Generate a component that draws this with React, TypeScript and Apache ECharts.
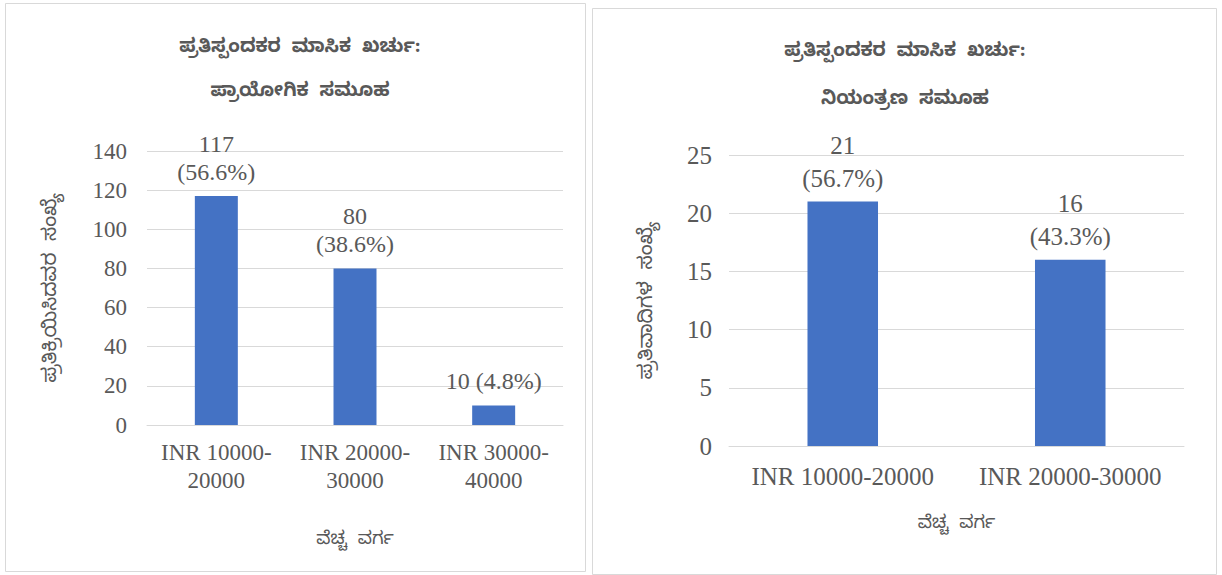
import React, { useEffect, useRef } from "react";
import * as echarts from "echarts";

const leftCategories = ["INR 10000-\n20000", "INR 20000-\n30000", "INR 30000-\n40000"];
const leftValues = [117, 80, 10];
const leftPercents = ["56.6", "38.6", "4.8"];
const leftLabelSep = ["\n", "\n", " "];
const leftTicks = { min: 0, max: 140, interval: 20 };

const rightCategories = ["INR 10000-20000", "INR 20000-30000"];
const rightValues = [21, 16];
const rightPercents = ["56.7", "43.3"];
const rightLabelSep = ["\n", "\n"];
const rightTicks = { min: 0, max: 25, interval: 5 };

const leftTitle = "ಪ್ರತಿಸ್ಪಂದಕರ  ಮಾಸಿಕ  ಖರ್ಚು:\n\nಪ್ರಾಯೋಗಿಕ  ಸಮೂಹ";
const rightTitle = "ಪ್ರತಿಸ್ಪಂದಕರ  ಮಾಸಿಕ  ಖರ್ಚು:\n\nನಿಯಂತ್ರಣ  ಸಮೂಹ";
const leftYName = "ಪ್ರತಿಕ್ರಿಯಿಸಿದವರ  ಸಂಖ್ಯೆ";
const rightYName = "ಪ್ರತಿವಾದಿಗಳ  ಸಂಖ್ಯೆ";
const xName = "ವೆಚ್ಚ  ವರ್ಗ";

const SERIF = "Times New Roman, Liberation Serif, serif";
const KAN = "Noto Sans Kannada, Noto Sans, sans-serif";
const GRAY = "#595959";
const GRID = "#d9d9d9";
const BAR = "#4472c4";

export default function App() {
  const ref = useRef<HTMLDivElement>(null);
  useEffect(() => {
    if (!ref.current) return;
    const chart = echarts.init(ref.current, undefined, { renderer: "svg" });
    const mkLabel = (values: number[], pcts: string[], seps: string[]) => (p: any) =>
      `${values[p.dataIndex]}${seps[p.dataIndex]}(${pcts[p.dataIndex]}%)`;
    const xAxisCommon = {
      type: "category" as const,
      axisLine: { lineStyle: { color: GRID, width: 1 } },
      axisTick: { show: false },
      nameLocation: "middle" as const,
      nameTextStyle: { color: GRAY, fontFamily: KAN, fontSize: 18 },
    };
    const yAxisCommon = {
      type: "value" as const,
      axisLine: { show: false },
      axisTick: { show: false },
      splitLine: { lineStyle: { color: GRID, width: 1 } },
      nameLocation: "middle" as const,
      nameRotate: 90,
      nameTextStyle: { color: GRAY, fontFamily: KAN, fontSize: 20 },
    };
    chart.setOption({
      animation: false,
      backgroundColor: "#ffffff",
      title: [
        {
          text: leftTitle,
          left: 295,
          top: 33,
          textAlign: "center",
          textStyle: { color: GRAY, fontFamily: KAN, fontSize: 19, fontWeight: "bold", lineHeight: 22 },
        },
        {
          text: rightTitle,
          left: 900,
          top: 36,
          textAlign: "center",
          textStyle: { color: GRAY, fontFamily: KAN, fontSize: 19, fontWeight: "bold", lineHeight: 24 },
        },
      ],
      graphic: [
        { type: "rect", shape: { x: 5.5, y: 3.5, width: 580, height: 568 }, style: { fill: "none", stroke: GRID, lineWidth: 1 }, silent: true },
        { type: "rect", shape: { x: 592.5, y: 8.5, width: 624, height: 566 }, style: { fill: "none", stroke: GRID, lineWidth: 1 }, silent: true },
      ],
      grid: [
        { left: 147, right: 659, top: 151, bottom: 150 },
        { left: 729, right: 38, top: 155, bottom: 129 },
      ],
      xAxis: [
        {
          ...xAxisCommon,
          gridIndex: 0,
          data: leftCategories,
          name: xName,
          nameGap: 107,
          axisLabel: { interval: 0, hideOverlap: false, color: GRAY, fontFamily: SERIF, fontSize: 23, lineHeight: 28, margin: 13 },
        },
        {
          ...xAxisCommon,
          gridIndex: 1,
          data: rightCategories,
          name: xName,
          nameGap: 70,
          axisLabel: { interval: 0, hideOverlap: false, color: GRAY, fontFamily: SERIF, fontSize: 25, lineHeight: 28, margin: 16 },
        },
      ],
      yAxis: [
        {
          ...yAxisCommon,
          gridIndex: 0,
          ...leftTicks,
          name: leftYName,
          nameGap: 84,
          axisLabel: { color: GRAY, fontFamily: SERIF, fontSize: 23, margin: 20 },
        },
        {
          ...yAxisCommon,
          gridIndex: 1,
          ...rightTicks,
          name: rightYName,
          nameGap: 70,
          axisLabel: { color: GRAY, fontFamily: SERIF, fontSize: 25, margin: 17 },
        },
      ],
      series: [
        {
          type: "bar",
          xAxisIndex: 0,
          yAxisIndex: 0,
          data: leftValues,
          barWidth: "31%",
          itemStyle: { color: BAR },
          label: {
            show: true,
            position: "top",
            distance: 10,
            color: GRAY,
            fontFamily: SERIF,
            fontSize: 24,
            lineHeight: 28,
            formatter: mkLabel(leftValues, leftPercents, leftLabelSep),
          },
        },
        {
          type: "bar",
          xAxisIndex: 1,
          yAxisIndex: 1,
          data: rightValues,
          barWidth: "31%",
          itemStyle: { color: BAR },
          label: {
            show: true,
            position: "top",
            distance: 7,
            color: GRAY,
            fontFamily: SERIF,
            fontSize: 25,
            lineHeight: 33,
            formatter: mkLabel(rightValues, rightPercents, rightLabelSep),
          },
        },
      ],
    });
    return () => chart.dispose();
  }, []);
  return (
    <div
      ref={ref}
      style={{ position: "fixed", left: 0, top: 0, width: 1222, height: 575 }}
    />
  );
}
